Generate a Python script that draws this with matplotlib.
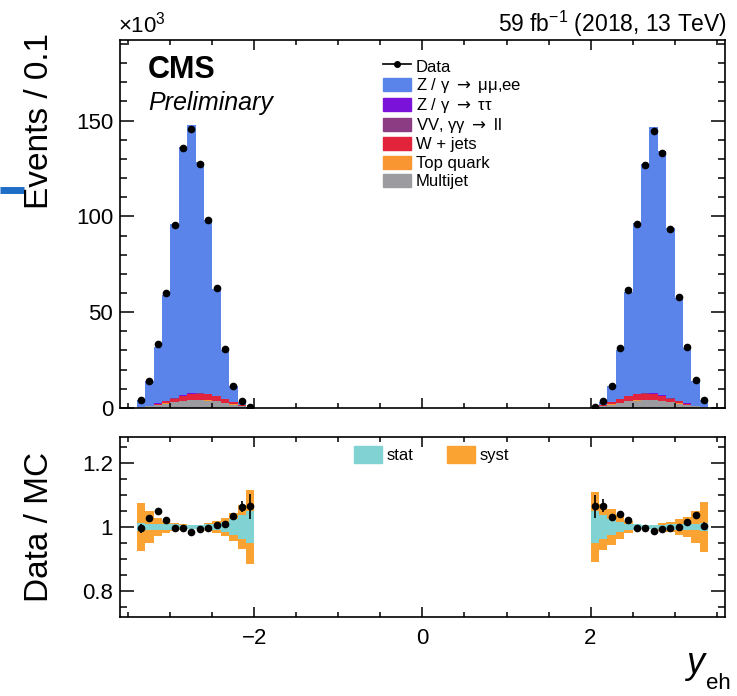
import numpy as np
import matplotlib.pyplot as plt
from matplotlib.lines import Line2D
from matplotlib.patches import Patch, Rectangle
from matplotlib.ticker import MultipleLocator
from matplotlib.font_manager import FontProperties
from matplotlib.legend_handler import HandlerPatch

plt.rcParams['font.family'] = ['Liberation Sans', 'DejaVu Sans']
plt.rcParams['mathtext.fontset'] = 'custom'
plt.rcParams['mathtext.rm'] = 'Liberation Sans'
plt.rcParams['mathtext.it'] = 'Liberation Sans:italic'
plt.rcParams['mathtext.bf'] = 'Liberation Sans:bold'

#--------------------------------------
# Data (events in thousands, bins of 0.1)
#--------------------------------------
edges_lo = np.round(np.arange(-3.4, -1.95, 0.1), 2)
edges_hi = np.round(np.arange(2.0, 3.45, 0.1), 2)

data_lo = [4.3, 14.2, 33.4, 60.0, 95.6, 135.6, 145.5, 127.4, 97.9, 62.6, 30.8, 11.6, 3.4, 0.5]
data_hi = [0.5, 3.4, 11.6, 31.3, 61.7, 96.1, 126.9, 144.7, 133.0, 93.4, 57.7, 31.8, 14.4, 4.3]

zll_lo = [3.87, 12.60, 29.40, 54.81, 90.60, 129.28, 139.88, 120.22, 90.56, 55.94, 25.82, 8.06, 1.52, 0.20]
zll_hi = [0.20, 1.51, 8.09, 25.36, 54.08, 88.75, 119.33, 138.62, 127.08, 88.40, 53.74, 28.89, 12.67, 3.83]
ztt_lo = [0.02, 0.05, 0.10, 0.18, 0.28, 0.38, 0.42, 0.38, 0.30, 0.20, 0.10, 0.05, 0.02, 0.01]
ztt_hi = [0.01, 0.02, 0.05, 0.10, 0.20, 0.30, 0.38, 0.42, 0.38, 0.28, 0.18, 0.10, 0.05, 0.02]
vv_lo = [0.01, 0.03, 0.06, 0.10, 0.15, 0.20, 0.22, 0.20, 0.16, 0.10, 0.06, 0.03, 0.01, 0.00]
vv_hi = [0.00, 0.01, 0.03, 0.06, 0.10, 0.16, 0.20, 0.22, 0.20, 0.15, 0.10, 0.06, 0.03, 0.01]
wjets_lo = [0.10, 0.30, 0.70, 1.20, 1.80, 2.50, 3.00, 3.20, 3.00, 2.50, 1.80, 1.20, 0.60, 0.10]
wjets_hi = [0.10, 0.60, 1.20, 1.80, 2.50, 3.00, 3.20, 3.00, 2.50, 1.80, 1.20, 0.70, 0.30, 0.10]
top_lo = [0.02, 0.05, 0.08, 0.12, 0.15, 0.18, 0.20, 0.20, 0.18, 0.15, 0.12, 0.08, 0.05, 0.01]
top_hi = [0.01, 0.05, 0.08, 0.12, 0.15, 0.18, 0.20, 0.20, 0.18, 0.15, 0.12, 0.08, 0.05, 0.02]
qcd_lo = [0.30, 0.80, 1.50, 2.30, 3.00, 3.60, 4.00, 4.10, 3.90, 3.40, 2.60, 1.80, 1.00, 0.15]
qcd_hi = [0.15, 1.00, 1.80, 2.60, 3.40, 3.90, 4.10, 4.00, 3.60, 3.00, 2.30, 1.50, 0.80, 0.30]

# ratio uncertainties (half widths)
stat_lo = [0.012, 0.010, 0.009, 0.008, 0.008, 0.007, 0.006, 0.006, 0.008, 0.010, 0.016, 0.026, 0.038, 0.051]
stat_hi = [0.050, 0.038, 0.026, 0.016, 0.010, 0.008, 0.006, 0.006, 0.007, 0.008, 0.008, 0.009, 0.010, 0.012]
syst_lo = [0.075, 0.050, 0.029, 0.018, 0.011, 0.009, 0.007, 0.007, 0.011, 0.019, 0.028, 0.044, 0.069, 0.115]
syst_hi = [0.110, 0.073, 0.057, 0.037, 0.018, 0.010, 0.007, 0.007, 0.011, 0.016, 0.024, 0.031, 0.049, 0.079]
rerr_lo = [0.015, 0.009, 0.006, 0.004, 0.003, 0.003, 0.003, 0.003, 0.003, 0.004, 0.006, 0.009, 0.017, 0.038]
rerr_hi = [0.037, 0.020, 0.009, 0.006, 0.004, 0.003, 0.003, 0.003, 0.003, 0.003, 0.004, 0.006, 0.009, 0.012]

labels = ['Multijet', 'Top quark', 'W + jets', 'VV, \u03b3\u03b3 $\\rightarrow$ ll',
          'Z / \u03b3 $\\rightarrow$ \u03c4\u03c4', 'Z / \u03b3 $\\rightarrow$ \u03bc\u03bc,ee']
colors = ['#9b9ba0', '#fa9632', '#e1233c', '#8c3c82', '#7b12d9', '#5b84ea']
stat_col = '#80d2d3'
syst_col = '#fba332'

sides = [
    (edges_lo, [qcd_lo, top_lo, wjets_lo, vv_lo, ztt_lo, zll_lo], data_lo, stat_lo, syst_lo, rerr_lo),
    (edges_hi, [qcd_hi, top_hi, wjets_hi, vv_hi, ztt_hi, zll_hi], data_hi, stat_hi, syst_hi, rerr_hi),
]

#--------------------------------------
# Figure
#--------------------------------------
fig = plt.figure(figsize=(7.37, 6.96), dpi=100)
ax = fig.add_axes([0.1628, 0.4138, 0.8209, 0.5287])
ax2 = fig.add_axes([0.1628, 0.1135, 0.8209, 0.2586])

for edges, comps, data, stat, syst, rerr in sides:
    centers = (edges[:-1] + edges[1:]) / 2
    base = np.zeros(len(centers))
    for vals, col in zip(comps, colors):
        vals = np.array(vals)
        ax.stairs(base + vals, edges, baseline=base.copy(), fill=True, color=col, lw=0)
        base = base + vals
    ax.plot(centers, data, 'o', color='black', ms=4.5, zorder=5)

    ratio = np.array(data) / base
    stat = np.array(stat)
    syst = np.array(syst)
    ax2.stairs(1 + syst, edges, baseline=1 - syst, fill=True, color=syst_col, lw=0)
    ax2.stairs(1 + stat, edges, baseline=1 - stat, fill=True, color=stat_col, lw=0)
    ax2.errorbar(centers, ratio, yerr=rerr, fmt='o', color='black', ms=4.5,
                 elinewidth=1.2, capsize=0, zorder=5)

for a in (ax, ax2):
    a.set_xlim(-3.6, 3.6)
    a.xaxis.set_major_locator(MultipleLocator(2))
    a.xaxis.set_minor_locator(MultipleLocator(0.5))
    a.tick_params(which='both', direction='in', top=True, right=True, labelsize=16, width=1.1)
    a.tick_params(axis='y', which='major', length=10)
    a.tick_params(axis='y', which='minor', length=5)
    a.tick_params(axis='x', which='major', length=7)
    a.tick_params(axis='x', which='minor', length=3.5)
    for s in a.spines.values():
        s.set_linewidth(1.2)

ax.set_ylim(0, 192)
ax.yaxis.set_major_locator(MultipleLocator(50))
ax.yaxis.set_minor_locator(MultipleLocator(10))
ax.tick_params(labelbottom=False, pad=5)

ax2.set_ylim(0.72, 1.28)
ax2.set_yticks([0.8, 1.0, 1.2])
ax2.set_yticklabels(['0.8', '1', '1.2'])
ax2.yaxis.set_minor_locator(MultipleLocator(0.05))
ax2.tick_params(axis='x', pad=8)
ax2.tick_params(axis='y', pad=5)

# axis titles
fig.text(40 / 737, 1 - 33 / 696, 'Events / 0.1', rotation=90, ha='center', va='top', fontsize=24)
fig.text(40 / 737, 1 - 527 / 696, 'Data / MC', rotation=90, ha='center', va='center', fontsize=24)
fig.text(686 / 737, 1 - 673 / 696, 'y', style='italic', ha='left', va='baseline', fontsize=26)
fig.text(706 / 737, 1 - 689 / 696, 'eh', ha='left', va='baseline', fontsize=16)

# header texts
fig.text(118 / 737, 1 - 32 / 696, r'$\mathregular{\times10^{3}}$', ha='left', va='baseline', fontsize=16)
fig.text(727 / 737, 1 - 32 / 696, r'59 fb$^{\mathregular{-1}}$ (2018, 13 TeV)',
         ha='right', va='baseline', fontsize=16.5)
fig.text(148 / 737, 1 - 70 / 696, 'CMS', weight='bold', ha='left', va='center', fontsize=22)
fig.text(148 / 737, 1 - 103 / 696, 'Preliminary', style='italic', ha='left', va='center', fontsize=18)


# legend boxes smaller than the row height
def small_box(legend, orig_handle, xdescent, ydescent, width, height, fontsize):
    h = 0.78 * fontsize
    return Rectangle((-xdescent, -ydescent + (height - h) / 2), width, h)


leg_font = FontProperties(family=['Liberation Sans', 'DejaVu Sans'], size=12,
                          math_fontfamily='dejavusans')
handles = [Line2D([], [], color='black', marker='o', ms=4, lw=1.2)]
handles += [Patch(color=c) for c in colors[::-1]]
leg = ax.legend(handles, ['Data'] + labels[::-1], loc='upper left',
                bbox_to_anchor=(383 / 737, 1 - 57 / 696), bbox_transform=fig.transFigure,
                frameon=False, prop=leg_font, borderpad=0, borderaxespad=0,
                handlelength=1.65, handleheight=1.32, handletextpad=0.3, labelspacing=0.0,
                handler_map={Patch: HandlerPatch(patch_func=small_box)})

leg2 = ax2.legend([Patch(color=stat_col), Patch(color=syst_col)], ['stat', 'syst'],
                  loc='upper left', ncol=2,
                  bbox_to_anchor=(354 / 737, 1 - 446 / 696), bbox_transform=fig.transFigure,
                  frameon=False, fontsize=12, borderpad=0, borderaxespad=0,
                  handlelength=1.7, handleheight=1.2, handletextpad=0.25, columnspacing=2.0)

# blue marker at the left edge
fig.add_artist(Line2D([0, 24 / 737], [1 - 190 / 696, 1 - 190 / 696], color='#1e6ec8', lw=5,
                      transform=fig.transFigure, solid_capstyle='butt'))

fig.savefig('out.png', dpi=100)
